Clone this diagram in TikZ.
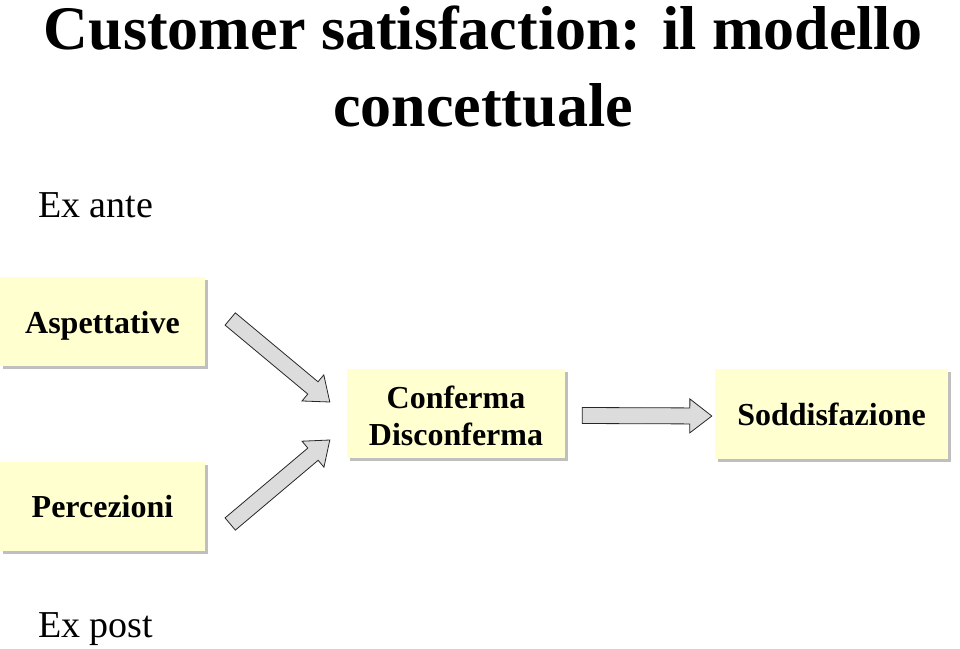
\documentclass[tikz,border=0pt]{standalone}
\usepackage{fontspec}
\setmainfont{Liberation Serif}
\usetikzlibrary{calc,shadows}
\definecolor{BoxYellow}{RGB}{255,255,208}
\definecolor{ArrowGray}{RGB}{220,220,220}
\tikzset{
  titlestyle/.style={font=\fontsize{62}{78}\selectfont\bfseries, inner sep=0pt},
  sidestyle/.style={font=\fontsize{38}{44}\selectfont, inner sep=0pt},
  box/.style={fill=BoxYellow, inner sep=0pt, minimum height=89pt, align=center,
    text height=23pt, text depth=0pt,
    font=\fontsize{32}{37}\selectfont\bfseries,
    drop shadow={shadow xshift=3pt, shadow yshift=-3pt, fill=black!50, opacity=.5}},
  blockarrow/.style={fill=ArrowGray, draw=black!85, line width=0.8pt, line join=miter}
}
\newcommand{\BlockArrow}[2]{%
  \coordinate (ba) at ($(#2)!22pt!(#1)$);
  \draw[blockarrow] ($(#1)!8pt!90:(#2)$) -- ($(ba)!8pt!-90:(#1)$)
    -- ($(ba)!17pt!-90:(#1)$) -- (#2) -- ($(ba)!17pt!90:(#1)$)
    -- ($(ba)!8pt!90:(#1)$) -- ($(#1)!8pt!-90:(#2)$) -- cycle;}
\begin{document}
\begin{tikzpicture}[x=1pt,y=-1pt]
  \useasboundingbox (0,0) rectangle (960,648);
  \node[titlestyle, anchor=base] (title1) at (483,49) {Customer satisfaction: il modello};
  \node[titlestyle, anchor=base] (title2) at (483,126) {concettuale};
  \node[sidestyle, anchor=base west] (exante) at (38,217) {Ex ante};
  \node[sidestyle, anchor=base west] (expost) at (38,637) {Ex post};

  \node[box, minimum width=205pt] (asp) at (102.5,321.5) {Aspettative};
  \node[box, minimum width=205pt] (perc) at (102.5,506) {Percezioni};
  \node[box, minimum width=218pt, text height=63pt, text depth=0pt] (conf) at (456,413.5) {Conferma\\Disconferma};
  \node[box, minimum width=233pt, minimum height=90pt] (sodd) at (831.5,414) {Soddisfazione};

  \coordinate (a1) at ($(asp.east)+(25,-2.5)$);
  \coordinate (a2) at ($(conf.west)+(-17,-11.5)$);
  \coordinate (p1) at ($(perc.east)+(25,18)$);
  \coordinate (p2) at ($(conf.west)+(-17,26.5)$);
  \coordinate (c1) at ($(conf.east)+(17,2)$);
  \coordinate (c2) at ($(sodd.west)+(-3,2)$);
  \foreach \S/\E in {a1/a2, p1/p2, c1/c2}
    {\BlockArrow{\S}{\E}}
\end{tikzpicture}
\end{document}
